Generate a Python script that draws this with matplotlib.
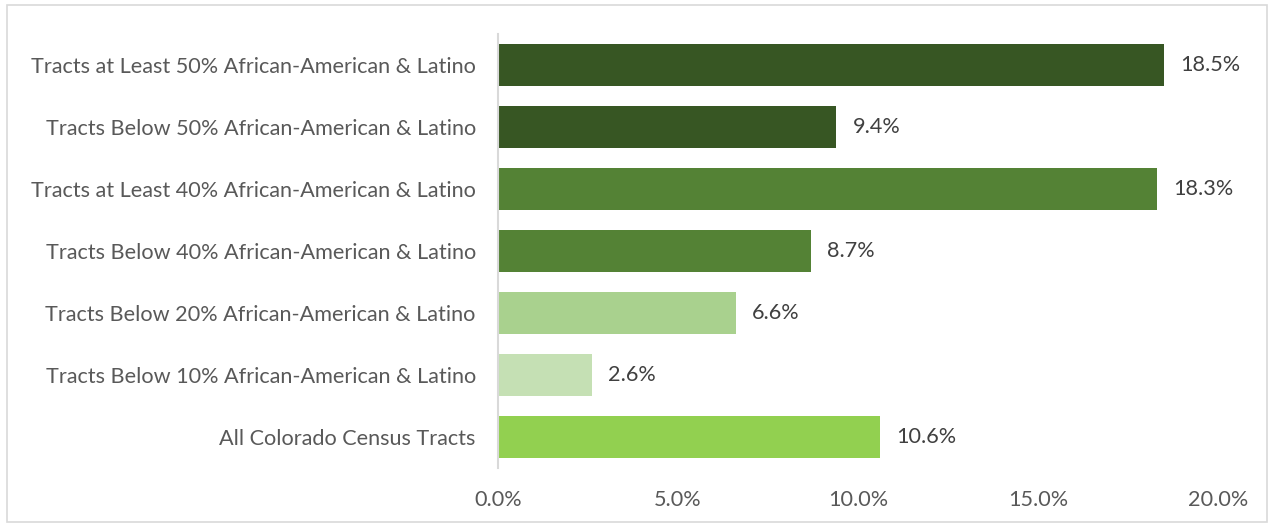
import matplotlib
matplotlib.use("Agg")
import matplotlib.pyplot as plt
from matplotlib.patches import Rectangle

categories = [
    "Tracts at Least 50% African-American & Latino",
    "Tracts Below 50% African-American & Latino",
    "Tracts at Least 40% African-American & Latino",
    "Tracts Below 40% African-American & Latino",
    "Tracts Below 20% African-American & Latino",
    "Tracts Below 10% African-American & Latino",
    "All Colorado Census Tracts",
]
values = [18.5, 9.4, 18.3, 8.7, 6.6, 2.6, 10.6]
colors = ["#375623", "#375623", "#548235", "#548235", "#A9D18E", "#C5E0B4", "#92D050"]
xticks = [0, 5, 10, 15, 20]

plt.rcParams['font.family'] = ['Lato', 'DejaVu Sans']
txt = "#595959"
fs = 15.6

fig = plt.figure(figsize=(12.73, 5.26), dpi=100)
ax = fig.add_axes([498/1273, 1-468/526, 720/1273, 434/526])

y = list(range(len(categories)))
ax.barh(y, values, height=0.68, color=colors, zorder=2)
ax.set_ylim(len(categories)-0.5, -0.5)
ax.set_xlim(0, 20)
ax.set_yticks(y)
ax.set_yticklabels(categories, fontsize=fs, color=txt)
ax.set_xticks(xticks)
ax.set_xticklabels([f"{t:.1f}%" for t in xticks], fontsize=fs, color=txt)
ax.tick_params(axis='both', length=0)
ax.tick_params(axis='y', pad=16)
ax.tick_params(axis='x', pad=16)
for s in ["top", "right", "bottom"]:
    ax.spines[s].set_visible(False)
ax.spines["left"].set_color("#D9D9D9")
ax.spines["left"].set_linewidth(1.5)

for yi, v in zip(y, values):
    ax.text(v + 0.45, yi, f"{v:.1f}%", va="center", ha="left", fontsize=fs, color="#404040")

fig.patches.append(Rectangle((7/1273, 4/526), 1260/1273, 517/526, transform=fig.transFigure,
                             fill=False, edgecolor="#D9D9D9", linewidth=1.2))
fig.savefig("out.png", dpi=100)
